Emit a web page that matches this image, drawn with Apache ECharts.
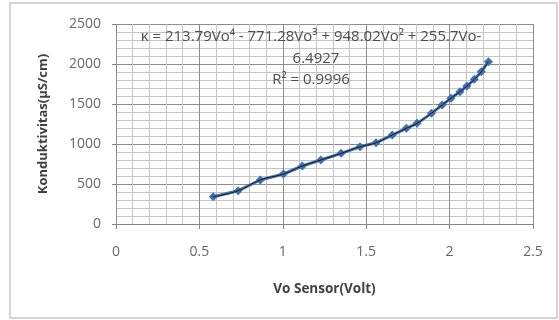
<!DOCTYPE html>
<html>
<head>
<meta charset="utf-8">
<script src="https://cdn.jsdelivr.net/npm/echarts@6/dist/echarts.min.js"></script>
<style>html,body{margin:0;padding:0;background:#fff}#c{width:559px;height:320px}</style>
</head>
<body>
<div id="c"></div>
<script>
// Data
var voSensor = [0.583, 0.732, 0.865, 1.004, 1.117, 1.228, 1.350, 1.463, 1.559, 1.656, 1.741, 1.805, 1.891, 1.955, 2.008, 2.062, 2.104, 2.148, 2.190, 2.233];
var konduktivitas = [341, 416, 550, 625, 725, 800, 883, 966, 1016, 1112, 1196, 1258, 1383, 1487, 1571, 1654, 1725, 1808, 1904, 2029];
var xTicks = [0, 0.5, 1, 1.5, 2, 2.5];
var yTicks = [0, 500, 1000, 1500, 2000, 2500];
var xTitle = 'Vo Sensor(Volt)';
var yTitle = 'Konduktivitas(µS/cm)';
var eqLines = ['κ = 213.79Vo⁴ - 771.28Vo³ + 948.02Vo² + 255.7Vo-', '6.4927', 'R² = 0.9996'];

var pts = voSensor.map(function (v, i) { return [v, konduktivitas[i]]; });
var font = 'Open Sans, Liberation Sans, sans-serif';
var chart = echarts.init(document.getElementById('c'), null, { renderer: 'canvas' });
chart.setOption({
  animation: false,
  backgroundColor: '#fff',
  grid: { left: 116, right: 26, top: 24, bottom: 96 },
  xAxis: {
    type: 'value', min: xTicks[0], max: xTicks[xTicks.length - 1], interval: 0.5,
    name: xTitle, nameLocation: 'middle', nameGap: 58,
    nameTextStyle: { fontFamily: font, fontSize: 13.5, fontWeight: 'bold', color: '#404040' },
    axisLine: { show: true, lineStyle: { color: '#868686', width: 1 } },
    axisTick: { show: true, length: 5, inside: false, lineStyle: { color: '#868686' } },
    axisLabel: { fontFamily: font, fontSize: 14, color: '#666666', margin: 21, formatter: function (v) { return String(v); } },
    splitLine: { show: true, lineStyle: { color: '#8c8c8c', width: 1 } },
    minorTick: { show: false, splitNumber: 5 },
    minorSplitLine: { show: true, lineStyle: { color: '#c4c4c4', width: 1 } }
  },
  yAxis: {
    type: 'value', min: yTicks[0], max: yTicks[yTicks.length - 1], interval: 500,
    name: yTitle, nameLocation: 'middle', nameGap: 66, nameRotate: 90,
    nameTextStyle: { fontFamily: font, fontSize: 13, fontWeight: 'bold', color: '#404040' },
    axisLine: { show: false },
    axisTick: { show: true, length: 4, lineStyle: { color: '#868686' } },
    axisLabel: { fontFamily: font, fontSize: 14, color: '#666666', margin: 15, formatter: function (v) { return String(v); } },
    splitLine: { show: true, lineStyle: { color: '#8c8c8c', width: 1 } },
    minorTick: { show: false, splitNumber: 5 },
    minorSplitLine: { show: true, lineStyle: { color: '#c4c4c4', width: 1 } }
  },
  graphic: [
    { type: 'rect', shape: { x: 10, y: 3, width: 547, height: 315 }, style: { fill: 'none', stroke: '#d4d4d4', lineWidth: 2 }, z: -1 },
    { type: 'text', x: 311, y: 37, style: { text: eqLines[0], fontFamily: font, fontSize: 15, fill: '#4d4d4d', align: 'center', verticalAlign: 'middle' }, z: 10 },
    { type: 'text', x: 316, y: 59, style: { text: eqLines[1], fontFamily: font, fontSize: 15, fill: '#4d4d4d', align: 'center', verticalAlign: 'middle' }, z: 10 },
    { type: 'text', x: 311, y: 80, style: { text: eqLines[2], fontFamily: font, fontSize: 15, fill: '#4d4d4d', align: 'center', verticalAlign: 'middle' }, z: 10 }
  ],
  series: [
    {
      type: 'line', data: pts, symbol: 'diamond', symbolSize: 9,
      itemStyle: { color: '#3f6faf' },
      lineStyle: { color: '#4373b3', width: 3 },
      z: 2
    },
    {
      type: 'line', data: pts, symbol: 'none', smooth: true,
      lineStyle: { color: '#1a1a1a', width: 1 },
      z: 3
    }
  ]
});
</script>
</body>
</html>
